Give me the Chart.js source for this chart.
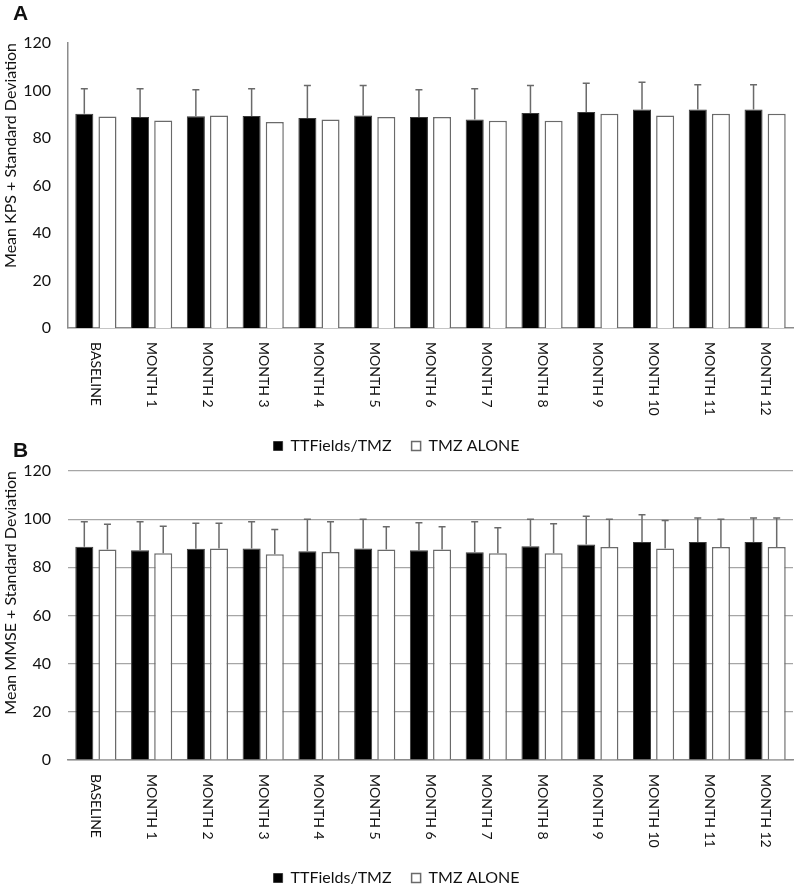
<!DOCTYPE html>
<html>
<head>
<meta charset="utf-8">
<script src="https://cdn.jsdelivr.net/npm/chart.js@4.4.0/dist/chart.umd.min.js"></script>
<style>
  body { margin: 0; background: #fff; width: 797px; height: 889px; position: relative; overflow: hidden; }
  .panel { position: absolute; left: 0; width: 797px; }
  #wrapA { top: 0; height: 464px; }
  #wrapB { top: 440px; height: 456px; }
  .tag { position: absolute; font: bold 21px "Liberation Sans", Arial, sans-serif; color: #111; }
</style>
</head>
<body>
<div class="panel" id="wrapA"><canvas id="chartA"></canvas></div>
<div class="panel" id="wrapB"><canvas id="chartB"></canvas></div>
<div class="tag" style="left:13px; top:1px;">A</div>
<div class="tag" style="left:13px; top:438px;">B</div>

<script>
// categorías del eje x
const categories = ['BASELINE', 'MONTH 1', 'MONTH 2', 'MONTH 3', 'MONTH 4', 'MONTH 5', 'MONTH 6',
                    'MONTH 7', 'MONTH 8', 'MONTH 9', 'MONTH 10', 'MONTH 11', 'MONTH 12'];
const yTicks = [0, 20, 40, 60, 80, 100, 120];

// Panel A - KPS
const kpsTTF   = [90.2, 88.8, 89.2, 89.3, 88.4, 89.5, 88.8, 87.8, 90.5, 90.9, 92.0, 92.0, 92.0];
const kpsTTFsd = [10.5, 11.9, 11.1, 11.4, 13.7, 12.6, 11.5, 12.9, 11.6, 12.2, 11.5, 10.4, 10.4];
const kpsTMZ   = [89.1, 87.4, 89.5, 86.7, 87.8, 88.8, 88.8, 87.3, 87.3, 90.2, 89.5, 90.2, 90.2];

// Panel B - MMSE
const mmseTTF   = [88.5, 87.1, 87.7, 87.8, 86.7, 87.8, 87.1, 86.3, 88.8, 89.5, 90.5, 90.5, 90.5];
const mmseTTFsd = [10.4, 11.8, 10.6, 11.1, 13.3, 12.2, 11.4, 12.6, 11.2, 11.7, 11.3, 10.0, 10.0];
const mmseTMZ   = [87.4, 85.8, 87.8, 85.4, 86.4, 87.4, 87.4, 85.8, 85.8, 88.4, 87.8, 88.4, 88.4];
const mmseTMZsd = [10.5, 11.3, 10.5, 10.3, 12.5,  9.4,  9.4, 10.6, 12.3, 11.6, 11.6, 11.6, 12.1];

const FONT = 'Lato, "Liberation Sans", sans-serif';
const TEXT = '#111';
const X_LABEL_PAD = 14;

// barras de error (media + desviación estándar)
const errorBars = {
  id: 'errorBars',
  afterDatasetsDraw(chart) {
    const ctx = chart.ctx;
    const y = chart.scales.y;
    chart.data.datasets.forEach((ds, i) => {
      if (!ds.sd) return;
      const meta = chart.getDatasetMeta(i);
      ctx.save();
      ctx.strokeStyle = '#6a6a6a';
      ctx.lineWidth = 1.5;
      meta.data.forEach((bar, j) => {
        const top = y.getPixelForValue(ds.data[j] + ds.sd[j]);
        const base = y.getPixelForValue(ds.data[j]);
        ctx.beginPath();
        ctx.moveTo(bar.x, base);
        ctx.lineTo(bar.x, top);
        ctx.moveTo(bar.x - 3.5, top);
        ctx.lineTo(bar.x + 3.5, top);
        ctx.stroke();
      });
      ctx.restore();
    });
  }
};

// etiquetas del eje x giradas en sentido horario
const xLabels = {
  id: 'xLabels',
  afterDraw(chart) {
    const ctx = chart.ctx;
    const x = chart.scales.x;
    ctx.save();
    ctx.fillStyle = TEXT;
    ctx.font = '14px ' + FONT;
    ctx.textAlign = 'left';
    ctx.textBaseline = 'middle';
    chart.data.labels.forEach((lab, i) => {
      ctx.save();
      ctx.translate(x.getPixelForTick(i), x.top + X_LABEL_PAD);
      ctx.rotate(Math.PI / 2);
      ctx.fillText(lab, 0, 0);
      ctx.restore();
    });
    ctx.restore();
  }
};

function makeChart(id, yTitle, ttf, ttfSd, tmz, tmzSd, withGrid, padTop) {
  return new Chart(document.getElementById(id), {
    type: 'bar',
    data: {
      labels: categories,
      datasets: [
        {
          label: 'TTFields/TMZ',
          data: ttf,
          sd: ttfSd,
          backgroundColor: '#000',
          borderColor: '#3a3a3a',
          borderWidth: 1,
          categoryPercentage: 0.83,
          barPercentage: 0.78
        },
        {
          label: 'TMZ ALONE',
          data: tmz,
          sd: tmzSd,
          backgroundColor: '#fff',
          borderColor: '#6a6a6a',
          borderWidth: 1.5,
          categoryPercentage: 0.83,
          barPercentage: 0.78
        }
      ]
    },
    options: {
      responsive: true,
      maintainAspectRatio: false,
      animation: false,
      layout: { padding: { top: padTop, right: 4, left: 0, bottom: 0 } },
      plugins: {
        tooltip: { enabled: false },
        legend: {
          position: 'bottom',
          labels: {
            boxWidth: 9,
            boxHeight: 9,
            padding: 20,
            color: TEXT,
            font: { family: FONT, size: 16 }
          }
        }
      },
      scales: {
        x: {
          afterFit(scale) { scale.height = 90; },
          grid: { display: false, drawTicks: false },
          border: { display: true, color: '#8c8c8c', width: 1.5 },
          ticks: {
            color: 'rgba(0,0,0,0)',
            minRotation: 90,
            maxRotation: 90,
            padding: X_LABEL_PAD,
            font: { family: FONT, size: 14 }
          }
        },
        y: {
          min: 0,
          max: 120,
          afterBuildTicks(scale) { scale.ticks = yTicks.map(v => ({ value: v })); },
          afterFit(scale) { scale.width = 68; },
          grid: { display: withGrid, color: '#a6a6a6', lineWidth: 1.2, drawTicks: false },
          border: { display: !withGrid, color: '#8c8c8c', width: 1.5 },
          ticks: {
            color: TEXT,
            padding: 17,
            font: { family: FONT, size: 16 }
          },
          title: {
            display: true,
            text: yTitle,
            color: TEXT,
            align: 'end',
            padding: { top: 1, bottom: 4 },
            font: { family: FONT, size: 16 }
          }
        }
      }
    },
    plugins: [errorBars, xLabels]
  });
}

makeChart('chartA', 'Mean KPS + Standard Deviation', kpsTTF, kpsTTFsd, kpsTMZ, null, false, 43);
makeChart('chartB', 'Mean MMSE + Standard Deviation', mmseTTF, mmseTTFsd, mmseTMZ, mmseTMZsd, true, 31);
</script>
</body>
</html>
